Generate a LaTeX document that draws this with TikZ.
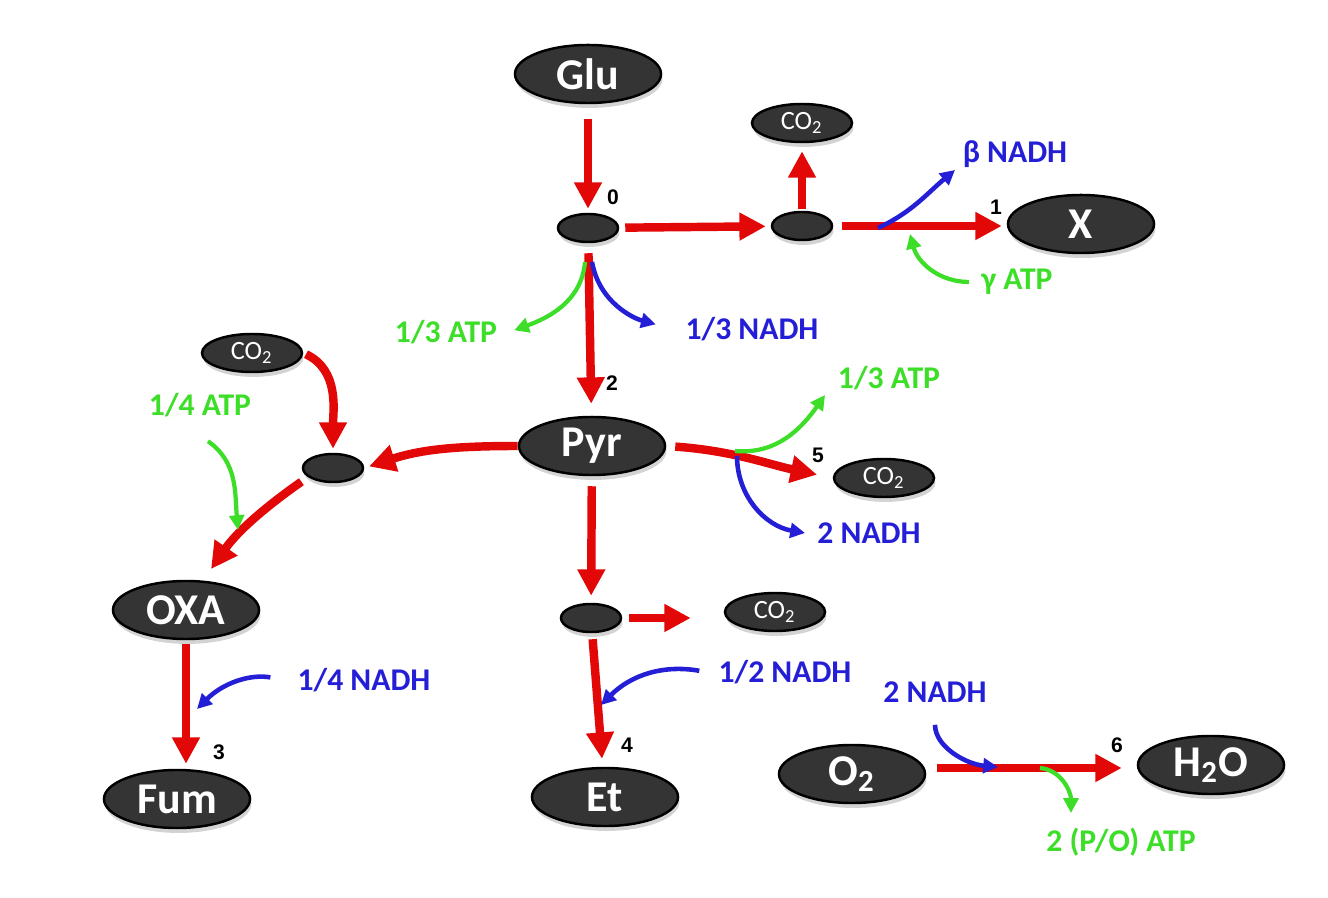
\documentclass[tikz,border=0pt]{standalone}
\usepackage{fontspec}
\setmainfont{Carlito}
\newfontfamily\numfont{Liberation Sans}
\usetikzlibrary{shapes.geometric,arrows.meta,shadows}

\definecolor{rxnred}{RGB}{226,8,8}
\definecolor{nadhblue}{RGB}{36,30,215}
\definecolor{atpgreen}{RGB}{60,222,40}
\definecolor{metgray}{RGB}{52,52,52}

\tikzset{
  met/.style={ellipse, draw=black, line width=0.7pt, fill=metgray, text=white, inner sep=0pt,
    drop shadow={shadow xshift=0.4pt, shadow yshift=-1.4pt, opacity=0.35}},
  big/.style={met, minimum width=1.46cm, minimum height=0.58cm, font=\bfseries\fontsize{12.5}{13}\selectfont},
  gas/.style={met, minimum width=1.0cm, minimum height=0.38cm, font=\fontsize{7.5}{8}\selectfont},
  junc/.style={met, minimum width=0.6cm, minimum height=0.28cm},
  rxn/.style={draw=rxnred, line width=2.4pt, -{Triangle[length=7.5pt,width=7.5pt]}},
  nadh/.style={draw=nadhblue, line width=1.3pt, -{Triangle[length=4.2pt,width=4.2pt]}},
  atp/.style={draw=atpgreen, line width=1.2pt, -{Triangle[length=4.2pt,width=4.2pt]}},
  nadhlab/.style={text=nadhblue, font=\bfseries\fontsize{9}{10}\selectfont},
  atplab/.style={text=atpgreen, font=\bfseries\fontsize{9}{10}\selectfont},
  num/.style={font=\numfont\bfseries\fontsize{6}{6}\selectfont},
}

\begin{document}
\begin{tikzpicture}[x=0.01cm, y=0.01cm]
\useasboundingbox (0,0) rectangle (1328,-898);

% metabolites
\node[big] (glu) at (588,-74) {Glu};
\node[junc] (j0) at (588,-228) {};
\node[junc] (j1) at (802,-226) {};
\node[gas] (co2a) at (802,-123) {CO\textsubscript{2}};
\node[big] (prodx) at (1081,-224) {X};
\node[big] (pyr) at (592,-446) {Pyr};
\node[gas] (co2b) at (252,-353) {CO\textsubscript{2}};
\node[junc] (jl) at (333,-468) {};
\node[gas] (co2c) at (884,-478) {CO\textsubscript{2}};
\node[big] (oxa) at (186,-610) {OXA};
\node[big] (fum) at (177,-799) {Fum};
\node[junc] (j4) at (591,-618) {};
\node[gas] (co2d) at (775,-612) {CO\textsubscript{2}};
\node[big] (et) at (605,-797) {Et};
\node[big] (o2) at (852,-774) {O\textsubscript{2}};
\node[big] (h2o) at (1211,-765) {H\textsubscript{2}O};

% reaction numbers
\node[num] (n0) at (613,-197) {0};
\node[num] (n1) at (996,-207) {1};
\node[num] (n2) at (612,-383) {2};
\node[num] (n3) at (219,-752) {3};
\node[num] (n4) at (627,-745) {4};
\node[num] (n5) at (818,-455) {5};
\node[num] (n6) at (1117,-745) {6};

% cofactors
\node[nadhlab] (bnadh) at (1015,-154) {β NADH};
\node[atplab] (gatp) at (1017,-282) {γ ATP};
\node[atplab] (atp0) at (446,-332) {1/3 ATP};
\node[nadhlab] (nadh0) at (752,-329) {1/3 NADH};
\node[atplab] (atp4) at (200,-405) {1/4 ATP};
\node[atplab] (atp5) at (889,-378) {1/3 ATP};
\node[nadhlab] (nadh5) at (869,-533) {2 NADH};
\node[nadhlab] (nadh4) at (785,-672) {1/2 NADH};
\node[nadhlab] (nadh3) at (364,-680) {1/4 NADH};
\node[nadhlab] (nadh6) at (935,-692) {2 NADH};
\node[atplab] (atp6) at (1121,-842) {2 (P/O) ATP};

% reactions
\draw[rxn, shorten <=1.5mm, shorten >=0.4mm] (glu) -- (j0);
\draw[rxn, shorten <=0.6mm, shorten >=0.5mm] (j0) -- (j1);
\draw[rxn, shorten <=0.2mm, shorten >=0.8mm] (j1) -- (co2a);
\draw[rxn, shorten <=0.9mm, shorten >=0.5mm] (j1.east) -- (j1.east -| prodx.west);
\draw[rxn, shorten <=1mm, shorten >=1.2mm] (j0) -- (pyr);
\draw[rxn, shorten >=0.5mm] (pyr.west) to[out=180,in=18] (jl.east);
\draw[rxn, shorten <=0.3mm, shorten >=0.4mm] (co2b.east) to[out=-25,in=90] (jl.north);
\draw[rxn, shorten <=0.8mm, shorten >=1.4mm] (jl.200) to[out=215,in=55] (oxa.60);
\draw[rxn, shorten <=0.9mm, shorten >=1.6mm] (pyr.east) to[out=-4,in=168] (co2c.west);
\draw[rxn, shorten <=1mm, shorten >=0.7mm] (pyr) -- (j4);
\draw[rxn, shorten <=0.7mm, shorten >=3.3mm] (j4.east) -- (j4.east -| co2d.west);
\draw[rxn, shorten <=0.6mm, shorten >=0.8mm] (j4) -- (et);
\draw[rxn, shorten <=0.4mm, shorten >=0.5mm] (oxa.south) -- (oxa.south |- fum.north);
\draw[rxn, shorten <=1.1mm, shorten >=1.5mm] ([yshift=0.6mm]o2.east) -- ([yshift=0.6mm]o2.east -| h2o.west);

% cofactor arrows
\coordinate (b1) at (878,-228);
\coordinate (b1e) at (955,-170);
\draw[nadh] (b1) to[out=25,in=220] (b1e);
\coordinate (g1) at (910,-234);
\draw[atp] (gatp.west) to[out=180,in=-75] (g1);

\coordinate (g0) at (585,-262);
\draw[atp, shorten >=0.5mm] (g0) to[out=-95,in=20] (atp0.east);
\coordinate (b0) at (592,-262);
\draw[nadh, shorten >=1.8mm] (b0) to[out=-80,in=165] (nadh0.west);

\coordinate (g4) at (238,-530);
\draw[atp] ([xshift=0.8mm,yshift=-1.2mm]atp4.south) to[out=-35,in=95] (g4);

\coordinate (g5) at (735,-451);
\coordinate (g5e) at (825,-395);
\draw[atp] (g5) to[out=-5,in=235] (g5e);
\coordinate (b5) at (737,-456);
\draw[nadh] (b5) to[out=-90,in=170] (nadh5.west);

\coordinate (b4e) at (601,-705);
\draw[nadh, shorten <=0.7mm] (nadh4.west) to[out=170,in=45] (b4e);
\coordinate (b3e) at (197,-709);
\draw[nadh, shorten <=1.5mm] (nadh3.west) to[out=170,in=45] (b3e);

\coordinate (b6e) at (998,-767);
\draw[nadh, shorten <=1mm] (nadh6.south) to[out=-90,in=175] (b6e);
\coordinate (g6) at (1040,-768);
\coordinate (g6e) at (1071,-813);
\draw[atp] (g6) to[out=-5,in=90] (g6e);
\end{tikzpicture}
\end{document}
